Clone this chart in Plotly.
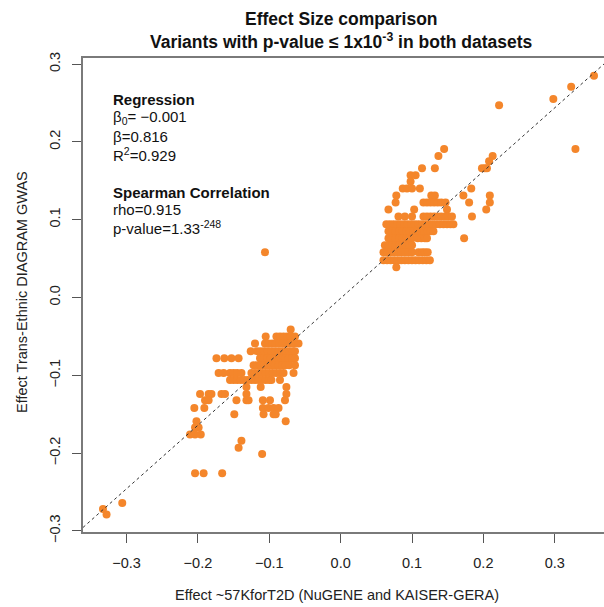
import plotly.graph_objects as go

# ---------------- data ----------------
TITLE_LINE_1 = "Effect Size comparison"
TITLE_LINE_2 = "Variants with p-value ≤ 1x10<sup>-3</sup> in both datasets"
X_LABEL = "Effect ~57KforT2D (NuGENE and KAISER-GERA)"
Y_LABEL = "Effect Trans-Ethnic DIAGRAM GWAS"
TICK_VALUES = [-0.3, -0.2, -0.1, 0.0, 0.1, 0.2, 0.3]
TICK_LABELS = ["\u22120.3", "\u22120.2", "\u22120.1", "0.0", "0.1", "0.2", "0.3"]

REG_INTERCEPT = -0.001
REG_SLOPE = 0.816
REG_R2 = 0.929
SPEARMAN_RHO = 0.915
SPEARMAN_P = "1.33<sup>-248</sup>"

# positive cluster: rows of points sharing (rounded) y value
POS_ROW_Y = [0.285, 0.271, 0.255, 0.247, 0.191, 0.182, 0.175, 0.166, 0.157, 0.149, 0.140,
             0.131, 0.122, 0.113, 0.104, 0.094, 0.085, 0.076, 0.067, 0.058, 0.048, 0.039]
POS_ROW_X = [
    [0.355],
    [0.323],
    [0.298],
    [0.222],
    [0.145, 0.329],
    [0.137, 0.213],
    [0.208],
    [0.114, 0.132, 0.198, 0.202, 0.205],
    [0.098, 0.105],
    [0.098],
    [0.087, 0.093, 0.100, 0.111, 0.183],
    [0.078, 0.127, 0.132, 0.172, 0.209],
    [0.077, 0.116, 0.121, 0.126, 0.131, 0.136, 0.141, 0.147, 0.180, 0.209],
    [0.067, 0.103, 0.149, 0.204],
    [0.081, 0.090, 0.100, 0.116, 0.121, 0.126, 0.131, 0.136, 0.141, 0.146, 0.151, 0.156, 0.184],
    [0.064, 0.069, 0.074, 0.079, 0.084, 0.089, 0.094, 0.099, 0.104, 0.109, 0.114, 0.119,
     0.124, 0.129, 0.134, 0.139, 0.144, 0.149, 0.154, 0.158],
    [0.067, 0.072, 0.077, 0.082, 0.087, 0.092, 0.097, 0.102, 0.107, 0.112, 0.117, 0.122, 0.126, 0.130],
    [0.067, 0.072, 0.077, 0.082, 0.087, 0.092, 0.096, 0.100, 0.108, 0.113, 0.118, 0.121, 0.173],
    [0.062, 0.067, 0.072, 0.077, 0.082, 0.087, 0.092, 0.096, 0.100],
    [0.060, 0.065, 0.070, 0.075, 0.080, 0.085, 0.090, 0.095, 0.100, 0.109, 0.114, 0.118, 0.122],
    [0.060, 0.065, 0.070, 0.075, 0.080, 0.085, 0.090, 0.095, 0.100, 0.105, 0.110, 0.115, 0.120, 0.125],
    [0.078],
]

# negative cluster
NEG_ROW_Y = [-0.041, -0.050, -0.059, -0.069, -0.078, -0.087, -0.097, -0.106, -0.115, -0.124,
             -0.132, -0.142, -0.150, -0.159, -0.167, -0.176, -0.184, -0.193, -0.201, -0.226,
             -0.264, -0.272, -0.279]
NEG_ROW_X = [
    [-0.070],
    [-0.105, -0.090, -0.085, -0.080, -0.075, -0.070, -0.064],
    [-0.120, -0.106, -0.101, -0.096, -0.091, -0.086, -0.081, -0.076, -0.071, -0.066, -0.059],
    [-0.126, -0.117, -0.112, -0.107, -0.102, -0.097, -0.092, -0.087, -0.082, -0.077, -0.072, -0.067, -0.064],
    [-0.174, -0.163, -0.153, -0.143, -0.113, -0.108, -0.103, -0.098, -0.093, -0.088, -0.083,
     -0.078, -0.073, -0.068, -0.064],
    [-0.122, -0.117, -0.112, -0.107, -0.102, -0.097, -0.092, -0.087, -0.082, -0.077, -0.072, -0.064],
    [-0.171, -0.164, -0.155, -0.150, -0.145, -0.139, -0.125, -0.120, -0.115, -0.110, -0.105,
     -0.100, -0.095, -0.090, -0.085, -0.080, -0.066],
    [-0.155, -0.150, -0.145, -0.140, -0.135, -0.130, -0.125, -0.120, -0.115, -0.110, -0.105,
     -0.100, -0.097, -0.085],
    [-0.132, -0.112, -0.076],
    [-0.197, -0.185, -0.181, -0.167, -0.162, -0.132, -0.076],
    [-0.190, -0.185, -0.146, -0.132, -0.129, -0.109, -0.099, -0.078],
    [-0.205, -0.191, -0.109, -0.101, -0.094, -0.087],
    [-0.149, -0.108, -0.094, -0.091],
    [-0.202, -0.077],
    [-0.204, -0.199],
    [-0.211, -0.204, -0.196],
    [-0.139],
    [-0.143],
    [-0.110],
    [-0.204, -0.192, -0.166],
    [-0.306],
    [-0.333],
    [-0.328],
]

OUTLIER_X = [-0.106]
OUTLIER_Y = [0.058]

X_RANGE = [-0.361, 0.369]
Y_RANGE = [-0.3014, 0.3078]

# ---------------- build ----------------
xs, ys = [], []
for yv, row in zip(POS_ROW_Y + NEG_ROW_Y, POS_ROW_X + NEG_ROW_X):
    for xv in row:
        xs.append(xv)
        ys.append(yv)
xs += OUTLIER_X
ys += OUTLIER_Y

FONT = "Liberation Sans, Arial, Helvetica, sans-serif"
ORANGE = "#F4862B"

fig = go.Figure()
fig.add_trace(go.Scatter(
    x=xs, y=ys, mode="markers",
    marker=dict(color=ORANGE, size=8, line=dict(width=0)),
    hoverinfo="skip", showlegend=False,
))
line_x = X_RANGE
line_y = [REG_INTERCEPT + REG_SLOPE * v for v in line_x]
fig.add_trace(go.Scatter(
    x=line_x, y=line_y, mode="lines",
    line=dict(color="#333333", width=1, dash="3px,3px"),
    hoverinfo="skip", showlegend=False,
))

# plot area pixel geometry
L, R, T, B = 83, 604, 58, 532
W, H = 604, 607


def px(xp):
    return (xp - L) / (R - L)


def py(yp):
    return (B - yp) / (B - T)


annotations = []
annotations.append(dict(text="<b>" + TITLE_LINE_1 + "</b>", x=px(341), y=py(19),
                        font=dict(size=17.5, color="#111"), xanchor="center", yanchor="middle"))
annotations.append(dict(text="<b>" + TITLE_LINE_2 + "</b>", x=px(341), y=py(41),
                        font=dict(size=17.5, color="#111"), xanchor="center", yanchor="middle"))
annotations.append(dict(text=X_LABEL, x=px(337), y=py(595),
                        font=dict(size=14.5, color="#222"), xanchor="center", yanchor="middle"))
annotations.append(dict(text=Y_LABEL, x=px(22), y=py(292), textangle=-90,
                        font=dict(size=14.5, color="#222"), xanchor="center", yanchor="middle"))

stat_lines = [
    ("<b>Regression</b>", 99),
    ("\u03b2<sub>0</sub>= \u2212{:.3f}".format(abs(REG_INTERCEPT)), 117),
    ("\u03b2={:.3f}".format(REG_SLOPE), 136),
    ("R<sup>2</sup>={:.3f}".format(REG_R2), 154),
    ("<b>Spearman Correlation</b>", 193),
    ("rho={:.3f}".format(SPEARMAN_RHO), 210),
    ("p-value=" + SPEARMAN_P, 228),
]
for txt, yp in stat_lines:
    annotations.append(dict(text=txt, x=px(111), y=py(yp), xanchor="left", yanchor="middle",
                            font=dict(size=15, color="#111")))

for a in annotations:
    a.update(xref="paper", yref="paper", showarrow=False)

fig.update_layout(
    width=W, height=H,
    margin=dict(l=L, r=W - R, t=T, b=H - B, pad=0),
    paper_bgcolor="white", plot_bgcolor="white",
    font=dict(family=FONT, size=14.5, color="#222"),
    annotations=annotations,
    xaxis=dict(range=X_RANGE, tickvals=TICK_VALUES, ticktext=TICK_LABELS,
               showgrid=False, zeroline=False, showline=True, mirror=True,
               linecolor="#7a7a7a", linewidth=1.5, ticks="outside", ticklen=9,
               tickcolor="#555", tickwidth=1, ticklabelstandoff=8,
               tickfont=dict(size=14.5, color="#222")),
    yaxis=dict(range=Y_RANGE, tickvals=TICK_VALUES, ticktext=TICK_LABELS,
               showgrid=False, zeroline=False, showline=True, mirror=False,
               linecolor="#7a7a7a", linewidth=1.5, ticks="outside", ticklen=9,
               tickcolor="#555", tickwidth=1, tickangle=-90, ticklabelstandoff=6,
               tickfont=dict(size=14.5, color="#222")),
)

fig.write_html("out.html")
